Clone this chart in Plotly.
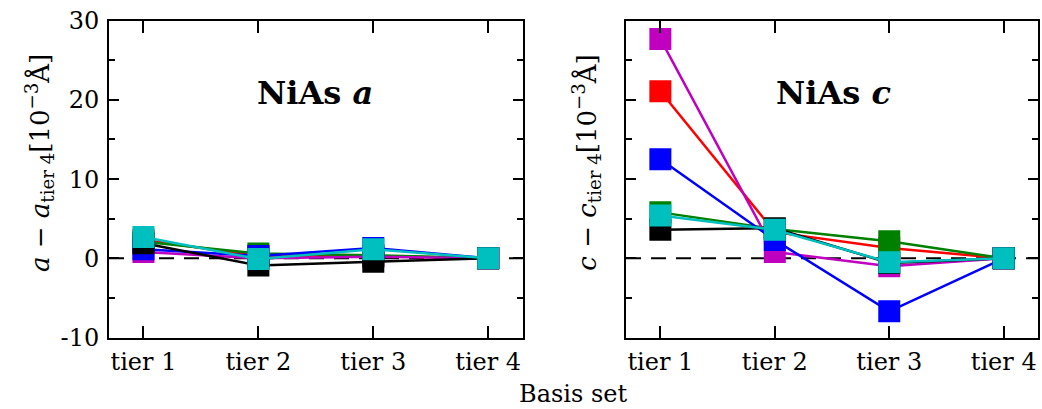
import plotly.graph_objects as go

tiers = ["tier 1", "tier 2", "tier 3", "tier 4"]

# a - a_tier4 [1e-3 Å]
a_red = [2.3, 0.3, 0.3, 0.0]
a_green = [2.1, 0.6, 0.4, 0.0]
a_magenta = [0.8, 0.0, 0.2, 0.0]
a_blue = [1.15, 0.3, 1.3, 0.0]
a_black = [1.9, -0.9, -0.45, 0.0]
a_cyan = [2.7, -0.1, 1.15, 0.0]

# c - c_tier4 [1e-3 Å]
c_red = [21.1, 3.3, 1.3, 0.0]
c_green = [5.8, 3.7, 2.15, 0.0]
c_magenta = [27.7, 0.8, -1.0, 0.0]
c_blue = [12.5, 2.3, -6.7, 0.0]
c_black = [3.6, 3.8, -0.6, 0.0]
c_cyan = [5.4, 3.6, -0.5, 0.0]

colors = {"red": "#ff0000", "green": "#008000", "magenta": "#bf00bf",
          "blue": "#0000ff", "black": "#000000", "cyan": "#00bfbf"}

a_series = [("red", a_red), ("green", a_green), ("magenta", a_magenta),
            ("blue", a_blue), ("black", a_black), ("cyan", a_cyan)]
c_series = [("red", c_red), ("green", c_green), ("magenta", c_magenta),
            ("blue", c_blue), ("black", c_black), ("cyan", c_cyan)]

yticks = [-10, 0, 10, 20, 30]
ytext = ["-10", "0", "10", "20", "30"]

FONT = "DejaVu Serif"

fig = go.Figure()
for name, vals in a_series:
    fig.add_trace(go.Scatter(x=tiers, y=vals, mode="lines+markers",
                             line=dict(color=colors[name], width=2.5),
                             marker=dict(symbol="square", size=22, color=colors[name], line=dict(width=0)),
                             xaxis="x", yaxis="y", showlegend=False))
for name, vals in c_series:
    fig.add_trace(go.Scatter(x=tiers, y=vals, mode="lines+markers",
                             line=dict(color=colors[name], width=2.5),
                             marker=dict(symbol="square", size=22, color=colors[name], line=dict(width=0)),
                             xaxis="x2", yaxis="y2", showlegend=False))

xcommon = dict(type="category", categoryorder="array", categoryarray=tiers,
               range=[-0.3, 3.3], showline=True, linewidth=2, linecolor="black",
               mirror="ticks", ticks="inside", ticklen=12, tickwidth=2, tickcolor="black",
               showgrid=False, zeroline=False, ticklabelstandoff=2, automargin=False,
               tickfont=dict(family=FONT, size=24, color="black"))
ycommon = dict(range=[-10, 30], tickmode="array", tickvals=yticks, ticktext=ytext,
               showline=True, linewidth=2, linecolor="black", mirror="ticks",
               ticks="inside", ticklen=10, tickwidth=2, tickcolor="black",
               minor=dict(tickmode="array", tickvals=[-5, 5, 15, 25], ticks="inside",
                          ticklen=6, tickwidth=2, tickcolor="black", showgrid=False),
               showgrid=False, zeroline=False, ticklabelstandoff=3, automargin=False,
               tickfont=dict(family=FONT, size=24, color="black"))

fig.update_layout(
    width=1042, height=409,
    margin=dict(l=0, r=0, t=0, b=0, autoexpand=False),
    paper_bgcolor="white", plot_bgcolor="white",
    xaxis=dict(domain=[0.1046, 0.5016], anchor="y", **xcommon),
    yaxis=dict(domain=[0.1748, 0.9494], anchor="x", **ycommon),
    xaxis2=dict(domain=[0.6008, 0.9962], anchor="y2", **xcommon),
    yaxis2=dict(domain=[0.1748, 0.9494], anchor="x2", showticklabels=False, **ycommon),
    shapes=[
        dict(type="line", xref="x domain", yref="y", x0=0, x1=1, y0=0, y1=0,
             line=dict(color="black", width=2, dash="15px,10px"), layer="below"),
        dict(type="line", xref="x2 domain", yref="y2", x0=0, x1=1, y0=0, y1=0,
             line=dict(color="black", width=2, dash="15px,10px"), layer="below"),
    ],
    annotations=[
        dict(text="<b>NiAs <i>a</i></b>", x=0.3023, y=0.772, xref="paper", yref="paper",
             showarrow=False, xanchor="center", yanchor="middle",
             font=dict(family=FONT, size=32, color="black")),
        dict(text="<b>NiAs <i>c</i></b>", x=0.8003, y=0.772, xref="paper", yref="paper",
             showarrow=False, xanchor="center", yanchor="middle",
             font=dict(family=FONT, size=32, color="black")),
        dict(text="<i>a</i> − <i>a</i><sub>tier 4</sub>[10<sup>−3</sup>Å]", x=0.0384, y=0.6015,
             xref="paper", yref="paper", showarrow=False, textangle=-90,
             xanchor="center", yanchor="middle",
             font=dict(family=FONT, size=26, color="black")),
        dict(text="<i>c</i> − <i>c</i><sub>tier 4</sub>[10<sup>−3</sup>Å]", x=0.563, y=0.6015,
             xref="paper", yref="paper", showarrow=False, textangle=-90,
             xanchor="center", yanchor="middle",
             font=dict(family=FONT, size=26, color="black")),
        dict(text="Basis set", x=0.55, y=0.037, xref="paper", yref="paper",
             showarrow=False, xanchor="center", yanchor="middle",
             font=dict(family=FONT, size=24, color="black")),
    ],
)

fig.write_html("out.html", config={"displayModeBar": False},
               post_script="document.body.style.margin='0';document.body.style.padding='0';document.documentElement.style.overflow='hidden';")
